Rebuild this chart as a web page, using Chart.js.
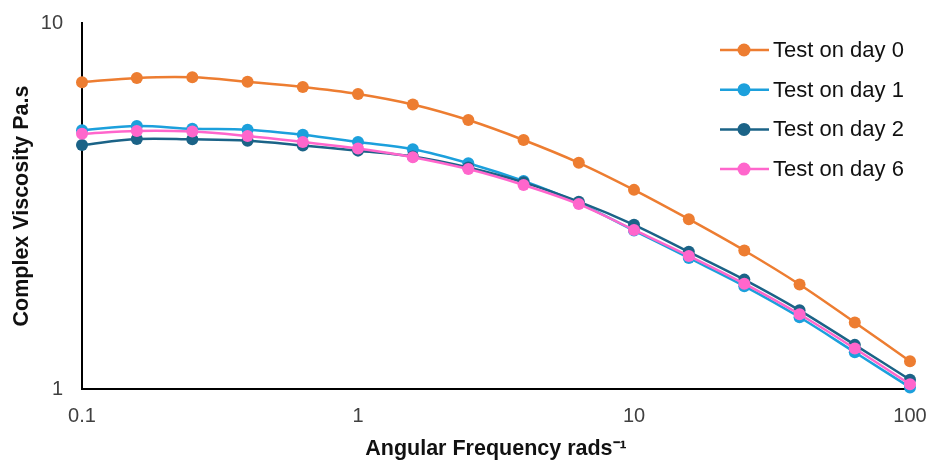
<!DOCTYPE html>
<html>
<head>
<meta charset="utf-8">
<script src="https://cdn.jsdelivr.net/npm/chart.js@4.4.1/dist/chart.umd.min.js"></script>
<style>
  html, body { margin: 0; padding: 0; background: #fff; }
  #wrap { width: 934px; height: 463px; position: relative; }
</style>
</head>
<body>
<div id="wrap"><canvas id="viscChart" width="934" height="463"></canvas></div>
<script>
/* ── DATA ── */
const freq = [0.1, 0.158, 0.251, 0.398, 0.631, 1, 1.58, 2.51, 3.98, 6.31, 10, 15.8, 25.1, 39.8, 63.1, 100];
const day0 = [6.89, 7.08, 7.11, 6.91, 6.69, 6.40, 5.99, 5.43, 4.79, 4.15, 3.50, 2.91, 2.39, 1.93, 1.52, 1.19];
const day1 = [5.09, 5.23, 5.14, 5.11, 4.95, 4.73, 4.52, 4.14, 3.70, 3.22, 2.71, 2.28, 1.91, 1.57, 1.26, 1.01];
const day2 = [4.64, 4.82, 4.81, 4.77, 4.63, 4.48, 4.32, 4.03, 3.67, 3.25, 2.81, 2.37, 1.99, 1.64, 1.32, 1.06];
const day6 = [4.98, 5.07, 5.05, 4.91, 4.73, 4.54, 4.30, 3.99, 3.61, 3.20, 2.72, 2.31, 1.94, 1.60, 1.29, 1.03];
const seriesNames = ['Test on day 0', 'Test on day 1', 'Test on day 2', 'Test on day 6'];
const xTicks = [0.1, 1, 10, 100];
const yTicks = [1, 10];

const colors = ['#ED7D31', '#1CA0DC', '#1B6387', '#FF66CC'];
const drawOrder = [4, 3, 2, 1];

function mkSet(i, vals) {
  return {
    label: seriesNames[i],
    data: freq.map(function (f, k) { return { x: f, y: vals[k] }; }),
    borderColor: colors[i], backgroundColor: colors[i],
    pointBackgroundColor: colors[i], pointBorderColor: colors[i],
    borderWidth: 2.5, pointRadius: 6, pointBorderWidth: 0, tension: 0.35,
    order: drawOrder[i], clip: false
  };
}

// legend drawn inside the plot, top right
const innerLegend = {
  id: 'innerLegend',
  afterDraw: function (chart) {
    const c = chart.ctx;
    c.save();
    c.font = '22px "Liberation Sans", Arial, sans-serif';
    c.textBaseline = 'middle';
    chart.data.datasets.forEach(function (ds, i) {
      const y = 50 + i * 39.7;
      c.strokeStyle = ds.borderColor; c.lineWidth = 2.5;
      c.beginPath(); c.moveTo(720, y); c.lineTo(769, y); c.stroke();
      c.fillStyle = ds.borderColor;
      c.beginPath(); c.arc(744, y, 6.5, 0, Math.PI * 2); c.fill();
      c.fillStyle = '#111';
      c.fillText(ds.label, 773, y + 1);
    });
    c.restore();
  }
};

const tickFont = { family: '"Liberation Sans", Arial, sans-serif', size: 20 };
const titleFont = { family: '"Liberation Sans", Arial, sans-serif', size: 21.5, weight: 'bold' };

new Chart(document.getElementById('viscChart'), {
  type: 'line',
  data: { datasets: [mkSet(0, day0), mkSet(1, day1), mkSet(2, day2), mkSet(3, day6)] },
  options: {
    responsive: false, animation: false,
    layout: { padding: { top: 23, right: 24, left: 0, bottom: 0 } },
    plugins: { legend: { display: false }, tooltip: { enabled: false } },
    scales: {
      x: {
        type: 'logarithmic', min: 0.1, max: 100,
        grid: { display: false, drawTicks: false },
        border: { display: true, color: '#000', width: 2 },
        afterBuildTicks: function (s) { s.ticks = xTicks.map(function (v) { return { value: v }; }); },
        afterFit: function (s) { s.height = 74; s.paddingLeft = 0; s.paddingRight = 0; },
        ticks: { color: '#404040', font: tickFont, padding: 15, maxRotation: 0, autoSkip: false,
          callback: function (v) { return String(v); } },
        title: { display: true, text: 'Angular Frequency rads\u207B\u00B9', color: '#111', font: titleFont, padding: { top: 0, bottom: 1 } }
      },
      y: {
        type: 'logarithmic', min: 1, max: 10,
        grid: { display: false, drawTicks: false },
        border: { display: true, color: '#000', width: 2 },
        afterBuildTicks: function (s) { s.ticks = yTicks.map(function (v) { return { value: v }; }); },
        afterFit: function (s) { s.width = 82; s.paddingTop = 0; s.paddingBottom = 0; },
        ticks: { color: '#404040', font: tickFont, padding: 19, autoSkip: false,
          callback: function (v) { return String(v); } },
        title: { display: true, text: 'Complex Viscosity Pa.s', color: '#111', font: titleFont, padding: { top: 9, bottom: 0 } }
      }
    }
  },
  plugins: [innerLegend]
});
</script>
</body>
</html>
